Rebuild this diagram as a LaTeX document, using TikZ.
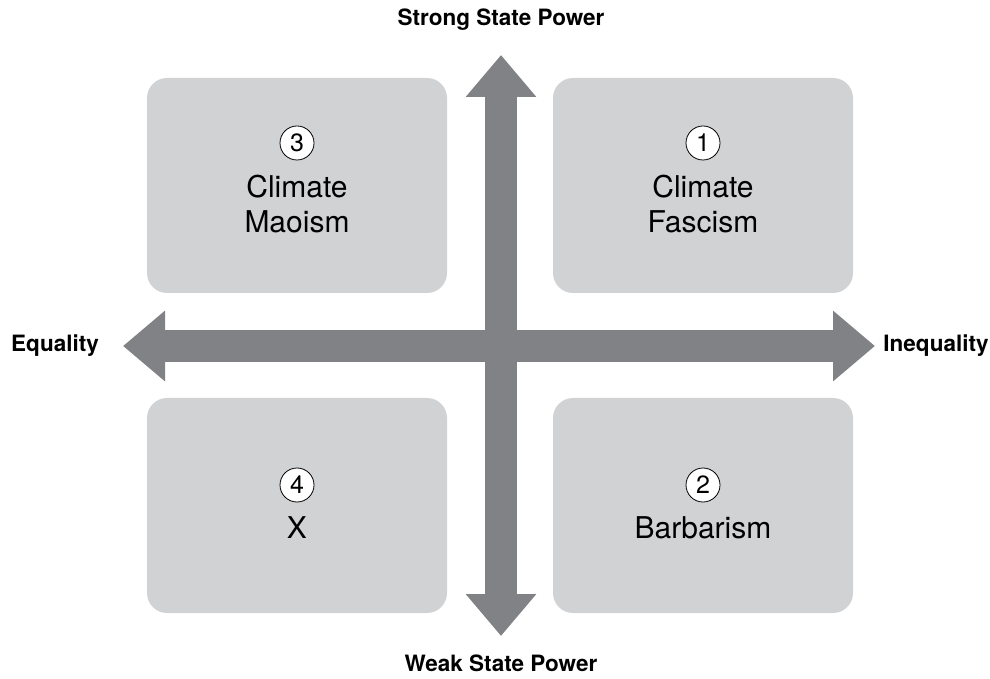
\documentclass[tikz,border=0pt]{standalone}
\usepackage{fontspec}
\setmainfont{TeX Gyre Heros}
\usetikzlibrary{arrows.meta,positioning}
\definecolor{boxgray}{HTML}{D1D2D4}
\definecolor{axisgray}{HTML}{808285}
\tikzset{
	quadrant/.style={fill=boxgray, rounded corners=20pt, minimum width=300pt, minimum height=215pt, inner sep=0pt},
	numcircle/.style={circle, draw=black, line width=0.8pt, fill=white, minimum size=34pt, inner sep=0pt, font=\fontsize{25}{25}\selectfont},
	quadtext/.style={align=center, inner sep=0pt, font=\fontsize{30}{35}\selectfont},
	axislabel/.style={inner sep=0pt, font=\fontsize{22.5}{22.5}\selectfont\bfseries},
	bigarrow/.style={draw=axisgray, line width=32pt, {Triangle[length=42pt,width=68pt]}-{Triangle[length=42pt,width=68pt]}}
}
\begin{document}
\begin{tikzpicture}[x=1pt, y=1pt]
	\useasboundingbox (0,0) rectangle (990,678);
	
	% quadrants
	\node[quadrant] (maoism) at (297,492.5) {};
	\node[quadrant] (fascism) at (703,492.5) {};
	\node[quadrant] (xbox) at (297,172.5) {};
	\node[quadrant] (barbarism) at (703,172.5) {};
	
	% axis end points
	\coordinate (top) at (501,623);
	\coordinate (bottom) at (501,42);
	\coordinate (left) at (123,332);
	\coordinate (right) at (875,332);
	
	\draw[bigarrow] (left) -- (right);
	\draw[bigarrow] (bottom) -- (top);
	
	% axis labels
	\node[axislabel] (strong) at (501,658) {Strong State Power};
	\node[axislabel] (weak) at (501,15) {Weak State Power};
	\node[axislabel] (equality) at (55,332) {Equality};
	\node[axislabel] (inequality) at (936,332) {Inequality};
	
	% numbers and names
	\node[numcircle] (n3) at (297,535) {3};
	\node[quadtext, below=14pt of n3] (t3) {Climate\\Maoism};
	\node[numcircle] (n1) at (703,535) {1};
	\node[quadtext, below=14pt of n1] (t1) {Climate\\Fascism};
	\node[numcircle] (n4) at (297,193) {4};
	\node[quadtext, below=14pt of n4] (t4) {X};
	\node[numcircle] (n2) at (703,193) {2};
	\node[quadtext, below=14pt of n2] (t2) {Barbarism};
\end{tikzpicture}
\end{document}
